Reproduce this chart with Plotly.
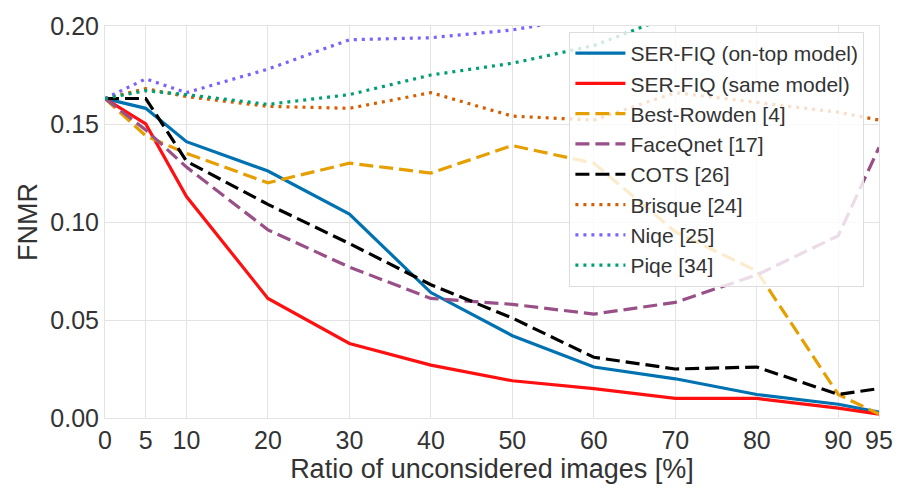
import plotly.graph_objects as go

ratios = [0, 5, 10, 20, 30, 40, 50, 60, 70, 80, 90, 95]

serfiq_ontop = [0.163, 0.158, 0.141, 0.126, 0.104, 0.064, 0.042, 0.026, 0.020, 0.012, 0.007, 0.003]
serfiq_same = [0.163, 0.150, 0.113, 0.061, 0.038, 0.027, 0.019, 0.015, 0.010, 0.010, 0.005, 0.002]
best_rowden = [0.163, 0.144, 0.135, 0.120, 0.130, 0.125, 0.139, 0.130, 0.095, 0.075, 0.012, 0.002]
faceqnet = [0.163, 0.147, 0.128, 0.096, 0.077, 0.061, 0.058, 0.053, 0.059, 0.073, 0.093, 0.138]
cots = [0.163, 0.163, 0.131, 0.109, 0.089, 0.068, 0.051, 0.031, 0.025, 0.026, 0.012, 0.015]
brisque = [0.163, 0.168, 0.164, 0.159, 0.158, 0.166, 0.154, 0.152, 0.166, 0.161, 0.156, 0.152]
niqe = [0.163, 0.173, 0.166, 0.178, 0.193, 0.194, 0.198, 0.205, 0.210, 0.215, 0.220, 0.225]
piqe = [0.163, 0.167, 0.165, 0.160, 0.165, 0.175, 0.181, 0.190, 0.206, 0.210, 0.215, 0.220]

names = ["SER-FIQ (on-top model)", "SER-FIQ (same model)", "Best-Rowden [4]", "FaceQnet [17]",
         "COTS [26]", "Brisque [24]", "Niqe [25]", "Piqe [34]"]
series = [serfiq_ontop, serfiq_same, best_rowden, faceqnet, cots, brisque, niqe, piqe]
colors = ["#0072B2", "#FF1010", "#E69F00", "#994F88", "#000000", "#D55E00", "#7B61FF", "#009E73"]
dashes = ["solid", "solid", "14px,6px", "14px,6px", "14px,6px", "3px,5px", "3px,5px", "3px,5px"]

x_ticks = [0, 5, 10, 20, 30, 40, 50, 60, 70, 80, 90, 95]
y_ticks = [0.0, 0.05, 0.10, 0.15, 0.20]

fig = go.Figure()
for i, (name, ys, c, d) in enumerate(zip(names, series, colors, dashes)):
    fig.add_trace(go.Scatter(x=ratios, y=ys, mode="lines", name=name, legendgroup="g%d" % i,
                             line=dict(color=c, width=3.2, dash=d)))

font_fam = "Liberation Sans, Arial, sans-serif"
fig.update_layout(
    width=905, height=489,
    margin=dict(l=105, r=18, t=21, b=62),
    paper_bgcolor="white", plot_bgcolor="white",
    font=dict(family=font_fam, color="#333333"),
    showlegend=True,
    legend=dict(x=0.6, y=0.985, xanchor="left", yanchor="top",
                bgcolor="rgba(255,255,255,0.8)", bordercolor="#dddddd", borderwidth=1,
                font=dict(size=21, color="#333333"), itemwidth=50, tracegroupgap=2,
                traceorder="normal"),
    xaxis=dict(range=[0, 95], tickvals=x_ticks, ticktext=[str(t) for t in x_ticks],
               showgrid=True, gridcolor="#e3e3e3", gridwidth=1,
               zeroline=False, showline=True, linecolor="#e3e3e3", mirror=True,
               tickfont=dict(size=25), ticks="",
               title=dict(text="Ratio of unconsidered images [%]", font=dict(size=27), standoff=4)),
    yaxis=dict(range=[0, 0.2], tickvals=y_ticks, ticktext=["%.2f" % v for v in y_ticks],
               showgrid=True, gridcolor="#e3e3e3", gridwidth=1,
               zeroline=False, showline=True, linecolor="#e3e3e3", mirror=True,
               tickfont=dict(size=25), ticks="",
               title=dict(text="FNMR", font=dict(size=27), standoff=4)),
)

fig.write_html("out.html")
